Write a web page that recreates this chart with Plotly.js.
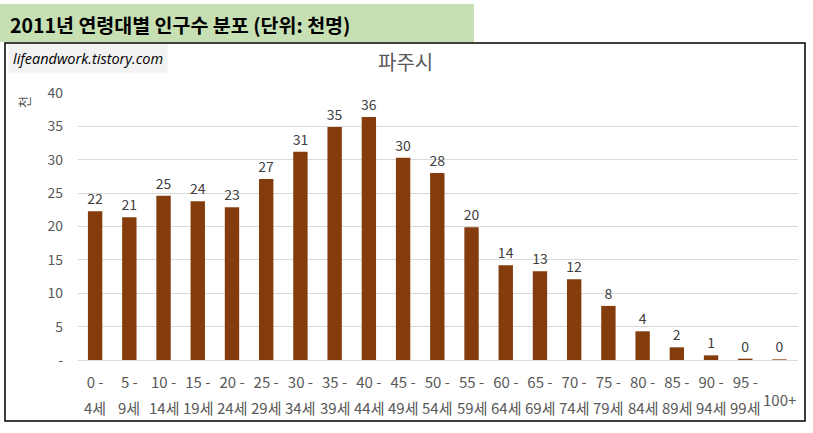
<!DOCTYPE html>
<html>
<head>
<meta charset="utf-8">
<script src="https://cdn.plot.ly/plotly-3.0.1.min.js"></script>
<style>
  html, body { margin: 0; padding: 0; background: #fff; }
  #chart { width: 813px; height: 433px; }
</style>
</head>
<body>
<div id="chart"></div>
<script>
// 2011 파주시 연령대별 인구 (천명)
const ageFrom = ["0 -", "5 -", "10 -", "15 -", "20 -", "25 -", "30 -", "35 -", "40 -", "45 -",
  "50 -", "55 -", "60 -", "65 -", "70 -", "75 -", "80 -", "85 -", "90 -", "95 -", ""];
const ageTo = ["4세", "9세", "14세", "19세", "24세", "29세", "34세", "39세", "44세", "49세",
  "54세", "59세", "64세", "69세", "74세", "79세", "84세", "89세", "94세", "99세", "100+"];
const population = [22.3, 21.4, 24.6, 23.8, 22.9, 27.1, 31.2, 34.9, 36.4, 30.3,
  28.0, 19.9, 14.2, 13.3, 12.1, 8.1, 4.3, 1.9, 0.7, 0.2, 0.1];
const yTickVals = [0, 5, 10, 15, 20, 25, 30, 35, 40];
const yTickText = ["-", "5", "10", "15", "20", "25", "30", "35", "40"];

const FONT = "Noto Sans CJK KR, Noto Sans, sans-serif";
const BROWN = "#843C0C";
const GRAY_TEXT = "#595959";

const cats = ageTo.map((_, i) => "c" + i);

// px -> paper helpers (plot area: x 78..798, y 93..360)
const PL = 78, PR = 798, PT = 93, PB = 360;
const px = v => (v - PL) / (PR - PL);
const py = v => (PB - v) / (PB - PT);

const trace = {
  type: "bar",
  x: cats,
  y: population,
  marker: { color: BROWN },
  text: population.map(v => String(Math.round(v))),
  textposition: "outside",
  constraintext: "none",
  textfont: { family: FONT, size: 14, color: "#404040" },
  cliponaxis: false,
  hoverinfo: "skip"
};

const secondLine = cats.map((c, i) => ({
  x: c, xref: "x",
  y: i === cats.length - 1 ? py(399) : py(407), yref: "paper",
  text: ageTo[i], showarrow: false,
  yanchor: "middle",
  font: { family: FONT, size: 15, color: GRAY_TEXT }
}));

const layout = {
  width: 813,
  height: 433,
  paper_bgcolor: "#fff",
  plot_bgcolor: "#fff",
  margin: { l: PL, r: 813 - PR, t: PT, b: 433 - PB },
  showlegend: false,
  bargap: 0.58,
  xaxis: {
    type: "category",
    tickvals: cats,
    ticktext: ageFrom,
    tickfont: { family: FONT, size: 15, color: GRAY_TEXT },
    showgrid: false,
    showline: true,
    linecolor: "#d9d9d9",
    linewidth: 1,
    ticks: "",
    ticklabelstandoff: 9,
    fixedrange: true
  },
  yaxis: {
    range: [0, 40],
    tickvals: yTickVals,
    ticktext: yTickText,
    tickfont: { family: FONT, size: 14, color: GRAY_TEXT },
    gridcolor: "#d9d9d9",
    gridwidth: 1,
    zeroline: false,
    ticks: "",
    ticklabelstandoff: 14,
    fixedrange: true
  },
  shapes: [
    {
      type: "rect", xref: "paper", yref: "paper", layer: "below",
      x0: px(0), x1: px(474), y0: py(42), y1: py(4),
      fillcolor: "#C6E0B4", line: { width: 0 }
    },
    {
      type: "rect", xref: "paper", yref: "paper", layer: "below",
      x0: px(5), x1: px(805), y0: py(421), y1: py(43),
      fillcolor: "rgba(0,0,0,0)", line: { color: "#000", width: 1.5 }
    }
  ],
  annotations: [
    {
      x: px(8), y: py(24), xref: "paper", yref: "paper",
      xanchor: "left", yanchor: "middle", showarrow: false,
      text: "<b>2011년 연령대별 인구수 분포 (단위: 천명)</b>",
      font: { family: FONT, size: 19.5, color: "#000" }
    },
    {
      x: px(8), y: py(59), xref: "paper", yref: "paper",
      xanchor: "left", yanchor: "middle", showarrow: false,
      text: "<i>lifeandwork.tistory.com</i>",
      bgcolor: "#F2F2F2", borderpad: 4,
      font: { family: "Open Sans, sans-serif", size: 14.5, color: "#000" }
    },
    {
      x: px(405), y: py(62), xref: "paper", yref: "paper",
      xanchor: "center", yanchor: "middle", showarrow: false,
      text: "파주시",
      font: { family: FONT, size: 20, color: GRAY_TEXT }
    },
    {
      x: px(23), y: py(102), xref: "paper", yref: "paper",
      xanchor: "center", yanchor: "middle", showarrow: false,
      textangle: -90,
      text: "천",
      font: { family: FONT, size: 13, color: GRAY_TEXT }
    }
  ].concat(secondLine)
};

Plotly.newPlot("chart", [trace], layout, { displayModeBar: false, staticPlot: true });
</script>
</body>
</html>
